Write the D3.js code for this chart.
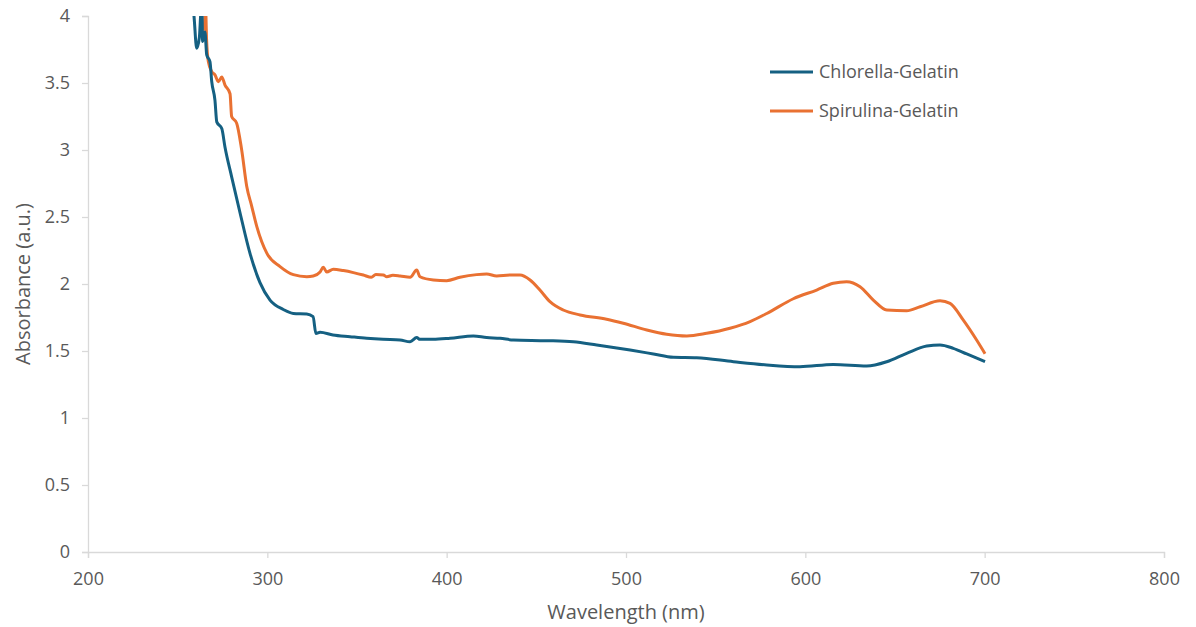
<!DOCTYPE html>
<html>
<head>
<meta charset="utf-8">
<script src="https://cdn.jsdelivr.net/npm/d3@7"></script>
<style>
  html, body { margin: 0; padding: 0; background: #ffffff; }
  svg { display: block; }
</style>
</head>
<body>
<svg id="chart" width="1196" height="627"></svg>
<script>
// ---- Data ----
const seriesNames = ["Chlorella-Gelatin", "Spirulina-Gelatin"];
const seriesColors = ["#156082", "#E97132"];

const chlorellaWl = [255.5, 259.1, 260.6, 262.1, 262.8, 263.5, 263.9, 265.2, 266.2, 268.0, 269.0, 270.8, 271.8, 274.6, 276.4, 280.1, 284.8, 290.3, 295.9, 301.5, 308.9, 314.5, 322.0, 325.5, 327.1, 329.4, 336.6, 346.1, 355.4, 364.5, 374.0, 379.6, 383.3, 385.1, 392.4, 401.9, 414.9, 422.3, 429.8, 437.2, 455.8, 470.6, 483.7, 502.3, 515.3, 526.4, 539.4, 559.9, 578.5, 597.0, 615.6, 634.2, 645.4, 656.5, 667.7, 675.1, 682.5, 690.0, 700.2];
const chlorellaAbs = [4.30, 4.00, 3.76, 3.84, 4.00, 4.10, 3.81, 3.88, 3.71, 3.66, 3.51, 3.37, 3.21, 3.16, 3.02, 2.80, 2.53, 2.23, 2.01, 1.88, 1.81, 1.78, 1.776, 1.756, 1.63, 1.64, 1.62, 1.607, 1.595, 1.587, 1.582, 1.569, 1.600, 1.587, 1.587, 1.595, 1.612, 1.600, 1.595, 1.582, 1.577, 1.569, 1.545, 1.507, 1.478, 1.453, 1.450, 1.420, 1.396, 1.383, 1.400, 1.388, 1.420, 1.483, 1.537, 1.545, 1.520, 1.478, 1.420];

const spirulinaWl = [263.0, 263.4, 264.7, 265.2, 265.6, 266.1, 267.1, 269.0, 270.8, 272.7, 274.6, 276.4, 279.2, 280.1, 282.9, 285.7, 288.5, 291.3, 294.1, 299.7, 307.1, 314.5, 322.0, 325.6, 329.4, 331.2, 333.1, 336.8, 342.4, 348.0, 353.5, 358.0, 360.5, 364.7, 366.6, 370.0, 374.0, 379.6, 383.3, 385.1, 392.6, 400.0, 407.4, 416.7, 422.3, 427.9, 435.3, 440.9, 446.5, 452.0, 457.6, 465.0, 474.4, 489.2, 498.5, 511.6, 522.7, 533.9, 545.0, 558.0, 569.2, 578.5, 593.3, 606.3, 615.6, 623.0, 630.5, 637.9, 645.4, 656.5, 664.0, 675.1, 680.7, 688.1, 695.6, 700.2];
const spirulinaAbs = [4.10, 3.91, 3.90, 4.00, 4.05, 3.83, 3.66, 3.585, 3.56, 3.51, 3.545, 3.485, 3.42, 3.25, 3.20, 3.00, 2.73, 2.58, 2.43, 2.23, 2.13, 2.07, 2.055, 2.06, 2.09, 2.125, 2.09, 2.11, 2.10, 2.085, 2.067, 2.05, 2.07, 2.067, 2.054, 2.065, 2.06, 2.05, 2.104, 2.054, 2.03, 2.025, 2.05, 2.07, 2.075, 2.06, 2.067, 2.067, 2.03, 1.955, 1.868, 1.806, 1.769, 1.737, 1.707, 1.657, 1.625, 1.612, 1.632, 1.67, 1.72, 1.78, 1.89, 1.955, 2.005, 2.017, 1.98, 1.88, 1.806, 1.80, 1.83, 1.875, 1.855, 1.73, 1.58, 1.48];

const xTicks = [200, 300, 400, 500, 600, 700, 800];
const yTicks = [0, 0.5, 1, 1.5, 2, 2.5, 3, 3.5, 4];
const xTitle = "Wavelength (nm)";
const yTitle = "Absorbance (a.u.)";

// ---- Layout ----
const svg = d3.select("#chart");
const plot = { left: 88, right: 1164, top: 16, bottom: 552 };
const fontFam = "'Open Sans', 'Liberation Sans', sans-serif";
const textColor = "#595959";
const axisColor = "#d9d9d9";

const x = d3.scaleLinear().domain([200, 800]).range([plot.left, plot.right]);
const y = d3.scaleLinear().domain([0, 4]).range([plot.bottom, plot.top]);

svg.append("defs").append("clipPath").attr("id", "plotclip")
  .append("rect")
  .attr("x", plot.left).attr("y", plot.top)
  .attr("width", plot.right - plot.left).attr("height", plot.bottom - plot.top);

// X axis
const xAxis = svg.append("g")
  .attr("transform", `translate(0,${plot.bottom})`)
  .call(d3.axisBottom(x).tickValues(xTicks).tickSize(6).tickPadding(14).tickFormat(d3.format("d")));
// Y axis
const yAxis = svg.append("g")
  .attr("transform", `translate(${plot.left},0)`)
  .call(d3.axisLeft(y).tickValues(yTicks).tickSize(6).tickPadding(12).tickFormat(d => String(d)));

[xAxis, yAxis].forEach(g => {
  g.selectAll("path.domain").attr("stroke", axisColor).attr("stroke-width", 1.3);
  g.selectAll(".tick line").attr("stroke", axisColor).attr("stroke-width", 1.3);
  g.selectAll(".tick text").attr("fill", textColor).style("font-family", fontFam).style("font-size", "18px");
});

// Lines
const line = d3.line()
  .x(d => x(d[0]))
  .y(d => y(d[1]))
  .curve(d3.curveMonotoneX);

const chlorella = chlorellaWl.map((w, i) => [w, chlorellaAbs[i]]);
const spirulina = spirulinaWl.map((w, i) => [w, spirulinaAbs[i]]);

const g = svg.append("g").attr("clip-path", "url(#plotclip)");
g.append("path").datum(spirulina)
  .attr("fill", "none").attr("stroke", seriesColors[1]).attr("stroke-width", 3)
  .attr("stroke-linejoin", "round").attr("d", line);
g.append("path").datum(chlorella)
  .attr("fill", "none").attr("stroke", seriesColors[0]).attr("stroke-width", 3)
  .attr("stroke-linejoin", "round").attr("d", line);

// Axis titles
svg.append("text")
  .attr("x", (plot.left + plot.right) / 2).attr("y", 619)
  .attr("text-anchor", "middle")
  .attr("fill", textColor).style("font-family", fontFam).style("font-size", "20px")
  .text(xTitle);
svg.append("text")
  .attr("transform", `translate(30,${(plot.top + plot.bottom) / 2}) rotate(-90)`)
  .attr("text-anchor", "middle")
  .attr("fill", textColor).style("font-family", fontFam).style("font-size", "20px")
  .text(yTitle);

// Legend
const legend = svg.append("g");
const legendY = [72, 111];
seriesNames.forEach((name, i) => {
  legend.append("line")
    .attr("x1", 770).attr("x2", 813)
    .attr("y1", legendY[i]).attr("y2", legendY[i])
    .attr("stroke", seriesColors[i]).attr("stroke-width", 3);
  legend.append("text")
    .attr("x", 819).attr("y", legendY[i])
    .attr("dy", "0.35em")
    .attr("fill", textColor).style("font-family", fontFam).style("font-size", "18px")
    .text(name);
});
</script>
</body>
</html>
